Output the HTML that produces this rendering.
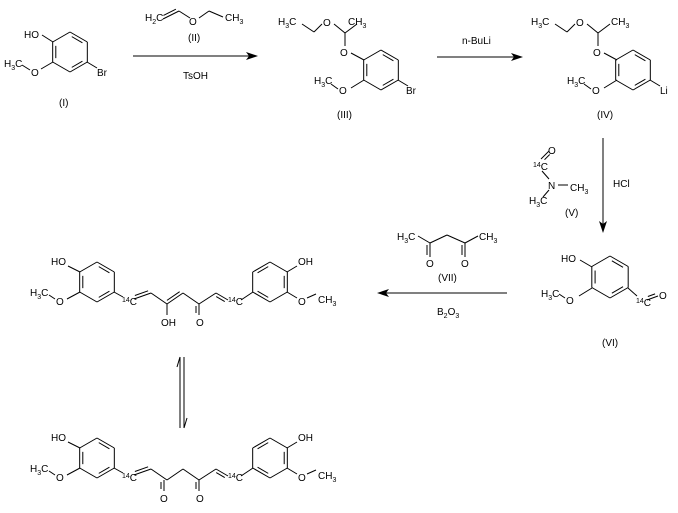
<!DOCTYPE html>
<html><head><meta charset="utf-8"><style>
html,body{margin:0;padding:0;background:#fff;width:678px;height:513px;overflow:hidden}
svg text{font-family:"Liberation Sans",Arial,sans-serif;font-size:10px;fill:#000}
.s{font-size:7px}
</style></head><body>
<svg id="g" width="678" height="513" viewBox="0 0 678 513" xmlns="http://www.w3.org/2000/svg">
<g id="lines" stroke="#000" stroke-width="1" fill="none"></g>
<g id="heads" fill="#000"></g>
<!-- I -->
<text x="24" y="38">HO</text>
<text x="4" y="67">H<tspan class="s" dy="3">3</tspan><tspan dy="-3">C</tspan></text>
<text x="31" y="76">O</text>
<text x="97" y="76">Br</text>
<text x="59" y="106">(I)</text>
<!-- II -->
<text x="145" y="21">H<tspan class="s" dy="3">2</tspan><tspan dy="-3">C</tspan></text>
<text x="189" y="25">O</text>
<text x="225" y="21">CH<tspan class="s" dy="3">3</tspan></text>
<text x="188" y="41">(II)</text>
<text x="183" y="79">TsOH</text>
<!-- III -->
<text x="278" y="25">H<tspan class="s" dy="3">3</tspan><tspan dy="-3">C</tspan></text>
<text x="323" y="26">O</text>
<text x="348" y="25">CH<tspan class="s" dy="3">3</tspan></text>
<text x="340" y="56">O</text>
<text x="314" y="84">H<tspan class="s" dy="3">3</tspan><tspan dy="-3">C</tspan></text>
<text x="339" y="94">O</text>
<text x="406" y="94">Br</text>
<text x="337" y="118">(III)</text>
<text x="462" y="44">n-BuLi</text>
<!-- IV -->
<text x="531" y="25">H<tspan class="s" dy="3">3</tspan><tspan dy="-3">C</tspan></text>
<text x="576" y="26">O</text>
<text x="611" y="25">CH<tspan class="s" dy="3">3</tspan></text>
<text x="593" y="56">O</text>
<text x="567" y="84">H<tspan class="s" dy="3">3</tspan><tspan dy="-3">C</tspan></text>
<text x="592" y="94">O</text>
<text x="660" y="94">Li</text>
<text x="597" y="118">(IV)</text>
<!-- V -->
<text x="548" y="154">O</text>
<text x="533" y="170"><tspan class="s" dy="-3">14</tspan><tspan dy="3">C</tspan></text>
<text x="548" y="189">N</text>
<text x="570" y="191">CH<tspan class="s" dy="3">3</tspan></text>
<text x="529" y="204">H<tspan class="s" dy="3">3</tspan><tspan dy="-3">C</tspan></text>
<text x="565" y="216">(V)</text>
<text x="613" y="187">HCl</text>
<!-- VI -->
<text x="561" y="262">HO</text>
<text x="541" y="297">H<tspan class="s" dy="3">3</tspan><tspan dy="-3">C</tspan></text>
<text x="566" y="304">O</text>
<text x="636" y="306"><tspan class="s" dy="-3">14</tspan><tspan dy="3">C</tspan></text>
<text x="659" y="299">O</text>
<text x="602" y="346">(VI)</text>
<!-- VII -->
<text x="397" y="240">H<tspan class="s" dy="3">3</tspan><tspan dy="-3">C</tspan></text>
<text x="479" y="240">CH<tspan class="s" dy="3">3</tspan></text>
<text x="426" y="267">O</text>
<text x="461" y="267">O</text>
<text x="438" y="281">(VII)</text>
<text x="437" y="315">B<tspan class="s" dy="3">2</tspan><tspan dy="-3">O</tspan><tspan class="s" dy="3">3</tspan></text>
<!-- enol -->
<text x="51" y="265">HO</text>
<text x="30" y="296">H<tspan class="s" dy="3">3</tspan><tspan dy="-3">C</tspan></text>
<text x="56" y="305">O</text>
<text x="122" y="305"><tspan class="s" dy="-3">14</tspan><tspan dy="3">C</tspan></text>
<text x="161" y="326">OH</text>
<text x="196" y="326">O</text>
<text x="228" y="305"><tspan class="s" dy="-3">14</tspan><tspan dy="3">C</tspan></text>
<text x="298" y="265">OH</text>
<text x="298" y="305">O</text>
<text x="318" y="303">CH<tspan class="s" dy="3">3</tspan></text>
<!-- keto -->
<text x="51" y="441">HO</text>
<text x="30" y="472">H<tspan class="s" dy="3">3</tspan><tspan dy="-3">C</tspan></text>
<text x="56" y="481">O</text>
<text x="122" y="481"><tspan class="s" dy="-3">14</tspan><tspan dy="3">C</tspan></text>
<text x="160" y="502">O</text>
<text x="196" y="502">O</text>
<text x="228" y="481"><tspan class="s" dy="-3">14</tspan><tspan dy="3">C</tspan></text>
<text x="298" y="441">OH</text>
<text x="298" y="481">O</text>
<text x="318" y="479">CH<tspan class="s" dy="3">3</tspan></text>
</svg>
<script>
var G=document.getElementById('lines'),H=document.getElementById('heads'),NS='http://www.w3.org/2000/svg';
function L(a,b,c,d){var e=document.createElementNS(NS,'line');e.setAttribute('x1',a);e.setAttribute('y1',b);e.setAttribute('x2',c);e.setAttribute('y2',d);G.appendChild(e);}
function D(a,b,c,d,s){L(a,b,c,d);var dx=c-a,dy=d-b,l=Math.hypot(dx,dy),nx=-dy/l*3*s,ny=dx/l*3*s,ux=dx/l*2,uy=dy/l*2;L(a+nx+ux,b+ny+uy,c+nx-ux,d+ny-uy);}
function P(pts){var e=document.createElementNS(NS,'polygon');e.setAttribute('points',pts);H.appendChild(e);}
function ring(cx,cy,r,d){var v=[];for(var i=0;i<6;i++){var a=(-90+60*i)*Math.PI/180;v.push([cx+r*Math.cos(a),cy+r*Math.sin(a)]);}
for(var i=0;i<6;i++){var p=v[i],q=v[(i+1)%6];L(p[0],p[1],q[0],q[1]);if(d.indexOf(i)>=0){var f=0.82;var p2=[cx+(p[0]-cx)*f,cy+(p[1]-cy)*f],q2=[cx+(q[0]-cx)*f,cy+(q[1]-cy)*f];var mx=(p2[0]+q2[0])/2,my=(p2[1]+q2[1])/2;L(mx+(p2[0]-mx)*.75,my+(p2[1]-my)*.75,mx+(q2[0]-mx)*.75,my+(q2[1]-my)*.75);}}return v;}
var A=[0,2,4],B=[5,1,3];
ring(70,52,20,A);L(53,42,42,35);L(53,62,41,69);L(30,70,22,65);L(87,62,97,68);
D(163,19,179,11,-1);L(179,11,190,18);L(199,18,209,11);L(209,11,223,17);
L(133,56,250,56);P('258,56,246,52,249,56,246,60');
ring(381,70,20,A);L(364,60,351,53);L(345,46,345,33);L(345,33,334,24);L(345,33,357,24);L(322,24,314,32);L(314,32,302,24);L(364,80,351,88);L(338,89,331,84);L(398,80,408,86);
L(437,57,515,57);P('523,57,511,53,514,57,511,61');
ring(633,70,20,A);L(617,60,604,53);L(598,46,598,33);L(598,33,587,24);L(598,33,610,24);L(575,24,567,32);L(567,32,555,24);L(617,80,604,88);L(591,89,584,84);L(650,80,660,86);
D(541,159,549,151,1);L(542,171,549,179);L(558,185,568,185);L(549,190,543,197);
L(603,138,603,225);P('603,233,599,221,603,224,607,221');
ring(610,277,21,A);L(592,267,580,260);L(592,288,579,296);L(565,298,559,294);L(628,288,637,296);D(647,300,658,296,-1);
L(418,236,430,243);L(430,243,447,235);L(447,235,465,243);L(465,243,478,236);D(430,243,430,257,1);D(465,243,465,257,1);
L(507,293,385,293);P('377,293,389,289,386,293,389,297');
function curc(o,enol){ring(97,282+o,20,A);L(80,272+o,68,266+o);L(80,292+o,67,299+o);L(55,299+o,49,295+o);L(114,292+o,123,297+o);
var p=[[134,299],[151,293],[167,304],[183,293],[199,304],[216,293],[228,300]];
for(var i=0;i<6;i++){var a=p[i],b=p[i+1];var dbl=enol?(i==0||i==2||i==5):(i==0||i==5);if(dbl)D(a[0],a[1]+o,b[0],b[1]+o,(i%2==0)?-1:1);else L(a[0],a[1]+o,b[0],b[1]+o);}
if(enol){L(167,304+o,167,315+o);D(199,304+o,199,315+o,1);}else{D(164,304+o,164,315+o,1);D(199,304+o,199,315+o,1);}
ring(270,282+o,20,B);L(241,300+o,253,292+o);L(287,272+o,297,266+o);L(287,292+o,297,298+o);L(307,298+o,316,294+o);}
curc(0,true);curc(176,false);
L(180,357,180,428);L(180,357,177,367);L(184,357,184,428);L(184,428,187,418);
</script>
</body></html>
